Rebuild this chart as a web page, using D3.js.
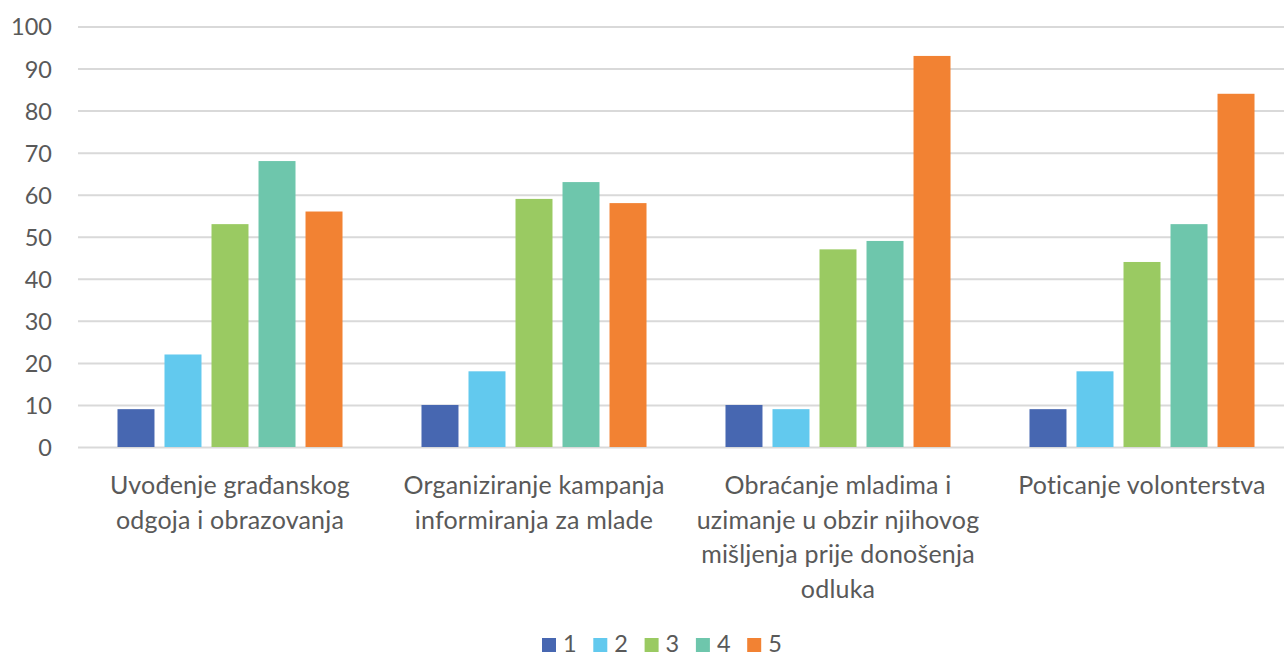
<!DOCTYPE html>
<html>
<head>
<meta charset="utf-8">
<script src="https://cdn.jsdelivr.net/npm/d3@7"></script>
<style>
  html, body { margin: 0; padding: 0; background: #ffffff; }
  svg { display: block; }
  text { font-family: Lato, "Open Sans", sans-serif; fill: #595959; }
</style>
</head>
<body>
<svg id="chart" width="1284" height="657"></svg>
<script>
// ---- data ----
const categories = [
  "Uvođenje građanskog\nodgoja i obrazovanja",
  "Organiziranje kampanja\ninformiranja za mlade",
  "Obraćanje mladima i\nuzimanje u obzir njihovog\nmišljenja prije donošenja\nodluka",
  "Poticanje volonterstva"
];
const seriesNames = ["1", "2", "3", "4", "5"];
const series1 = [9, 10, 10, 9];
const series2 = [22, 18, 9, 18];
const series3 = [53, 59, 47, 44];
const series4 = [68, 63, 49, 53];
const series5 = [56, 58, 93, 84];
const yTicks = [0, 10, 20, 30, 40, 50, 60, 70, 80, 90, 100];
const colors = ["#4767b1", "#62c9ee", "#9aca62", "#6ec6ac", "#f28233"];

const seriesValues = [series1, series2, series3, series4, series5];
const table = categories.map((c, i) => ({
  category: c,
  values: seriesNames.map((s, j) => ({ key: s, value: seriesValues[j][i] }))
}));

// ---- layout ----
const svg = d3.select("#chart");
const plotLeft = 78, plotRight = 1294, plotTop = 26.5, plotBottom = 447;

const x0 = d3.scaleBand().domain(categories).range([plotLeft, plotRight]).padding(0);
const x1 = d3.scaleBand().domain(seriesNames).range([0, x0.bandwidth()])
  .paddingInner(0.213).paddingOuter(0.84);
const y = d3.scaleLinear().domain([0, 100]).range([plotBottom, plotTop]);
const color = d3.scaleOrdinal().domain(seriesNames).range(colors);

// gridlines + y labels via axis
const yAxis = d3.axisLeft(y).tickValues(yTicks).tickSize(-(plotRight - plotLeft)).tickPadding(26);
const gy = svg.append("g").attr("transform", `translate(${plotLeft},0)`).call(yAxis);
gy.select(".domain").remove();
gy.selectAll(".tick line").attr("stroke", "#d9d9d9").attr("stroke-width", 2);
gy.selectAll(".tick text")
  .style("font-size", "23.5px").attr("fill", "#595959").attr("dy", "0.36em")
  .style("font-family", "Lato, 'Open Sans', sans-serif");

// bars
const groups = svg.append("g").selectAll("g")
  .data(table).join("g")
  .attr("transform", d => `translate(${x0(d.category)},0)`);
groups.selectAll("rect")
  .data(d => d.values).join("rect")
  .attr("x", d => x1(d.key))
  .attr("width", x1.bandwidth())
  .attr("y", d => y(d.value))
  .attr("height", d => y(0) - y(d.value))
  .attr("fill", d => color(d.key));

// category labels
const lineH = 34.5;
const labels = svg.append("g").selectAll("text")
  .data(categories).join("text")
  .attr("x", d => x0(d) + x0.bandwidth() / 2)
  .attr("y", 494)
  .attr("text-anchor", "middle")
  .style("font-size", "25px")
  .style("letter-spacing", "0.2px");
labels.each(function(d) {
  const t = d3.select(this);
  const cx = x0(d) + x0.bandwidth() / 2;
  d.split("\n").forEach((line, i) => {
    t.append("tspan").attr("x", cx).attr("dy", i === 0 ? 0 : lineH).text(line);
  });
});

// legend
const legStart = 542, legStep = 51.3;
const leg = svg.append("g").selectAll("g")
  .data(seriesNames).join("g")
  .attr("transform", (d, i) => `translate(${legStart + i * legStep},638)`);
leg.append("rect").attr("width", 14).attr("height", 14).attr("fill", d => color(d));
leg.append("text").attr("x", 21).attr("y", 14).style("font-size", "23.5px").text(d => d);
</script>
</body>
</html>
